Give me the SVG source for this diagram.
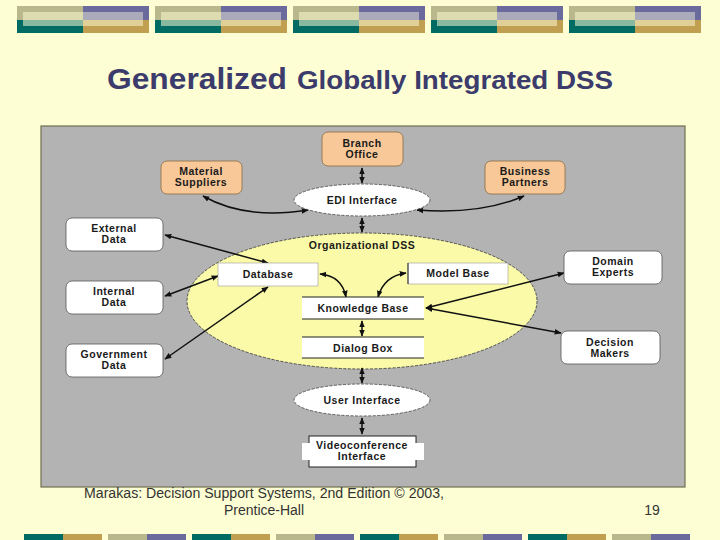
<svg xmlns="http://www.w3.org/2000/svg" width="720" height="540" viewBox="0 0 720 540">
<defs>
<marker id="ah" viewBox="0 0 10 10" refX="9" refY="5" markerWidth="7" markerHeight="7" orient="auto-start-reverse" markerUnits="userSpaceOnUse">
<path d="M0,1 L10,5 L0,9 z" fill="#111"/>
</marker>
<g id="topblock">
<rect x="0" y="0" width="66" height="14" fill="#b8b88c"/>
<rect x="66" y="0" width="66" height="14" fill="#6a6a9c"/>
<rect x="0" y="14" width="66" height="13" fill="#006b63"/>
<rect x="66" y="14" width="66" height="13" fill="#c0a050"/>
<rect x="6" y="6" width="60" height="8" fill="#dcdcb0"/>
<rect x="66" y="6" width="60" height="8" fill="#aaaabb"/>
<rect x="6" y="14" width="60" height="6" fill="#88b8a0"/>
<rect x="66" y="14" width="60" height="6" fill="#e0d098"/>
</g>
<g id="botA"><rect x="0" y="0" width="39" height="6" fill="#006b63"/><rect x="39" y="0" width="39" height="6" fill="#c0a050"/></g>
<g id="botB"><rect x="0" y="0" width="39" height="6" fill="#b8b88c"/><rect x="39" y="0" width="39" height="6" fill="#6a6a9c"/></g>
</defs>
<style>
.t{font-family:"Liberation Sans",Arial,sans-serif;font-weight:bold;font-size:10.5px;letter-spacing:0.5px;fill:#1a1a1a;text-anchor:middle}
.org{fill:#f8c898;stroke:#8a6a40;stroke-width:0.8}
.wr{fill:#ffffff;stroke:#555;stroke-width:0.8}
.el{fill:#ffffff;stroke:#444;stroke-width:0.8;stroke-dasharray:3 1.5}
.c{fill:none;stroke:#111;stroke-width:1.5;marker-start:url(#ah);marker-end:url(#ah)}
.foot{font-family:"Liberation Sans",Arial,sans-serif;font-size:14px;fill:#333}
</style>
<rect x="0" y="0" width="720" height="540" fill="#fefed4"/>
<g id="header-bars">
<use href="#topblock" x="17" y="6"/>
<use href="#topblock" x="155" y="6"/>
<use href="#topblock" x="293" y="6"/>
<use href="#topblock" x="431" y="6"/>
<use href="#topblock" x="569" y="6"/>
</g>
<g id="footer-bars">
<use href="#botA" x="24" y="534"/><use href="#botB" x="108" y="534"/>
<use href="#botA" x="192" y="534"/><use href="#botB" x="276" y="534"/>
<use href="#botA" x="360" y="534"/><use href="#botB" x="444" y="534"/>
<use href="#botA" x="528" y="534"/><use href="#botB" x="612" y="534"/>
</g>
<g id="title" font-family="Liberation Sans, Arial, sans-serif" font-weight="bold" fill="#3c3c6c">
<text x="107" y="89" font-size="30" textLength="180" lengthAdjust="spacingAndGlyphs">Generalized</text>
<text x="297" y="89" font-size="25" textLength="316" lengthAdjust="spacingAndGlyphs">Globally Integrated DSS</text>
</g>
<rect id="panel" x="41" y="126" width="644" height="361" fill="#b3b3b3" stroke="#6e6e50" stroke-width="1.2"/>
<g id="org-dss">
<ellipse cx="362" cy="301" rx="175" ry="68" fill="#fafaa8" stroke="#333" stroke-width="0.8" stroke-dasharray="3 1.5"/>
<text class="t" x="362" y="249">Organizational DSS</text>
</g>
<g id="connectors">
<path class="c" d="M362,168 L362,183"/>
<path class="c" d="M362,218 L362,232"/>
<path class="c" d="M203,196 Q245,220 308,210"/>
<path class="c" d="M417,210 Q480,215 524,196"/>
<path class="c" d="M165,235 L268,263"/>
<path class="c" d="M165,296 L218,276"/>
<path class="c" d="M165,359 L268,287"/>
<path class="c" d="M320,274 Q342,276 346,297"/>
<path class="c" d="M406,273 Q384,276 378,297"/>
<path class="c" d="M426,308 L564,273"/>
<path class="c" d="M426,308 L561,333"/>
<path class="c" d="M362,321 L362,336"/>
<path class="c" d="M362,368 L362,383"/>
<path class="c" d="M362,418 L362,434"/>
</g>
<g id="branch-office"><rect class="org" x="322" y="132" width="81" height="34" rx="6"/><text class="t" x="362" y="147">Branch</text><text class="t" x="362" y="158">Office</text></g>
<g id="material-suppliers"><rect class="org" x="161" y="161" width="81" height="33" rx="6"/><text class="t" x="201" y="175">Material</text><text class="t" x="201" y="186">Suppliers</text></g>
<g id="business-partners"><rect class="org" x="485" y="161" width="80" height="33" rx="6"/><text class="t" x="525" y="175">Business</text><text class="t" x="525" y="186">Partners</text></g>
<g id="edi-interface"><ellipse class="el" cx="362" cy="200" rx="68" ry="16"/><text class="t" x="362" y="204">EDI Interface</text></g>
<g id="external-data"><rect class="wr" x="66" y="218" width="97" height="33" rx="6"/><text class="t" x="114" y="232">External</text><text class="t" x="114" y="243">Data</text></g>
<g id="internal-data"><rect class="wr" x="66" y="281" width="97" height="33" rx="6"/><text class="t" x="114" y="295">Internal</text><text class="t" x="114" y="306">Data</text></g>
<g id="government-data"><rect class="wr" x="66" y="344" width="97" height="33" rx="6"/><text class="t" x="114" y="358">Government</text><text class="t" x="114" y="369">Data</text></g>
<g id="database"><rect x="218" y="263" width="100" height="23" fill="#fff" stroke="#999" stroke-width="0.6"/><text class="t" x="268" y="278">Database</text></g>
<g id="model-base"><rect x="408" y="263" width="100" height="21" fill="#fff" stroke="#999" stroke-width="0.6"/><line x1="408" y1="263" x2="408" y2="284" stroke="#222" stroke-width="1"/><text class="t" x="458" y="277">Model Base</text></g>
<g id="knowledge-base"><rect x="302" y="297" width="122" height="22" fill="#fff"/><line x1="302" y1="297" x2="424" y2="297" stroke="#222" stroke-width="1"/><line x1="302" y1="319" x2="424" y2="319" stroke="#222" stroke-width="1"/><text class="t" x="363" y="311.5">Knowledge Base</text></g>
<g id="dialog-box"><rect x="302" y="337" width="122" height="21" fill="#fff"/><line x1="302" y1="337" x2="424" y2="337" stroke="#222" stroke-width="1"/><line x1="302" y1="358" x2="424" y2="358" stroke="#222" stroke-width="1"/><text class="t" x="363" y="351.5">Dialog Box</text></g>
<g id="user-interface"><ellipse class="el" cx="362" cy="400" rx="68" ry="16"/><text class="t" x="362" y="404">User Interface</text></g>
<g id="videoconference-interface"><rect x="309" y="436" width="107" height="31" fill="#fff" stroke="#222" stroke-width="1"/><rect x="302" y="443" width="122" height="17" fill="#fff"/><text class="t" x="362" y="449">Videoconference</text><text class="t" x="362" y="460">Interface</text></g>
<g id="domain-experts"><rect class="wr" x="564" y="251" width="98" height="33" rx="6"/><text class="t" x="613" y="265">Domain</text><text class="t" x="613" y="276">Experts</text></g>
<g id="decision-makers"><rect class="wr" x="561" y="331" width="99" height="33" rx="6"/><text class="t" x="610" y="346">Decision</text><text class="t" x="610" y="357">Makers</text></g>
<g id="footer-text">
<text class="foot" x="84" y="498" textLength="360" lengthAdjust="spacingAndGlyphs">Marakas: Decision Support Systems, 2nd Edition  © 2003,</text>
<text class="foot" x="264" y="515" text-anchor="middle">Prentice-Hall</text>
<text class="foot" x="652" y="515" text-anchor="middle">19</text>
</g>
</svg>
